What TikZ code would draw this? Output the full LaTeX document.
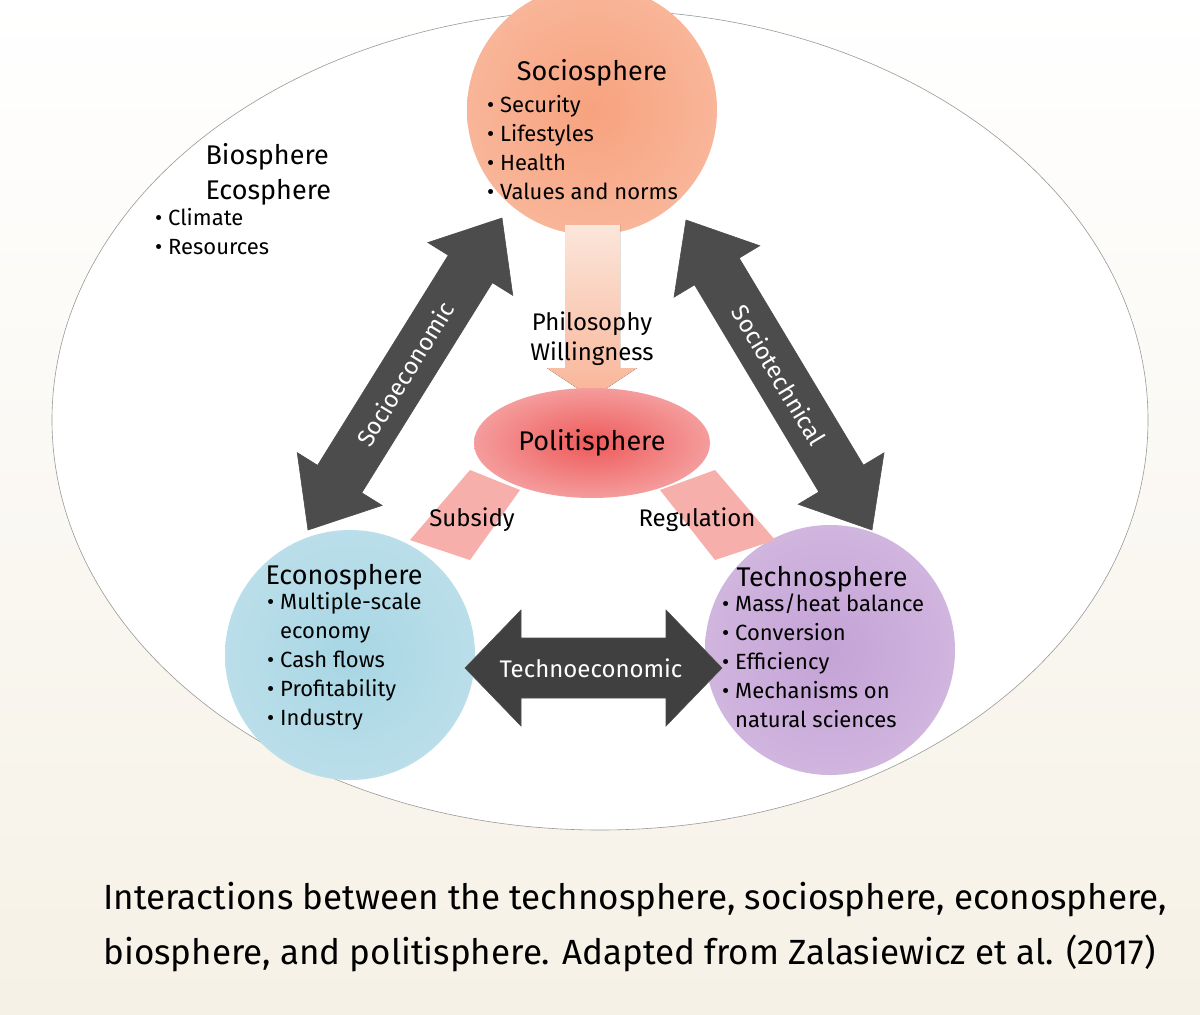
\documentclass[tikz,border=0pt]{standalone}
\usepackage{fontspec}
\setmainfont{Fira Sans}
\usetikzlibrary{calc}
\definecolor{cream}{HTML}{F6F1E6}
\definecolor{rim}{HTML}{D6D2A0}
\definecolor{socin}{HTML}{F7A27E}\definecolor{socout}{HTML}{FBE6DA}
\definecolor{ecoin}{HTML}{A8D6E4}\definecolor{ecoout}{HTML}{EAF4F3}
\definecolor{tecin}{HTML}{C4A2D6}\definecolor{tecout}{HTML}{F1E8F1}
\definecolor{polin}{HTML}{EE5A5A}\definecolor{polout}{HTML}{FBD3CF}
\pgfdeclareradialshading{ellsh}{\pgfpoint{0bp}{0bp}}{color(0bp)=(white); color(36bp)=(white); color(44bp)=(rim!45!white); color(50bp)=(rim)}
\pgfdeclareradialshading{socsh}{\pgfpoint{0bp}{0bp}}{color(0bp)=(socin); color(30bp)=(socin!75!white); color(50bp)=(socout)}
\pgfdeclareradialshading{ecosh}{\pgfpoint{0bp}{0bp}}{color(0bp)=(ecoin); color(30bp)=(ecoin!75!white); color(50bp)=(ecoout)}
\pgfdeclareradialshading{tecsh}{\pgfpoint{0bp}{0bp}}{color(0bp)=(tecin); color(30bp)=(tecin!75!white); color(50bp)=(tecout)}
\pgfdeclareradialshading{polsh}{\pgfpoint{0bp}{0bp}}{color(0bp)=(polin); color(25bp)=(polin!60!white); color(50bp)=(polout)}
\newcommand{\dbl}[6]{% A, B, shaft half, head half, head length, fill
  \path[fill=#6, draw=black!70, line width=0.6pt]
   (#1) -- ($($(#1)!#5pt!(#2)$)!#4pt!90:(#2)$) -- ($($(#1)!#5pt!(#2)$)!#3pt!90:(#2)$)
   -- ($($(#2)!#5pt!(#1)$)!#3pt!-90:(#1)$) -- ($($(#2)!#5pt!(#1)$)!#4pt!-90:(#1)$)
   -- (#2) -- ($($(#2)!#5pt!(#1)$)!#4pt!90:(#1)$) -- ($($(#2)!#5pt!(#1)$)!#3pt!90:(#1)$)
   -- ($($(#1)!#5pt!(#2)$)!#3pt!-90:(#2)$) -- ($($(#1)!#5pt!(#2)$)!#4pt!-90:(#2)$) -- cycle;}
\tikzset{
 ttl/.style={font=\fontsize{27}{30}\selectfont, anchor=west},
 bul/.style={font=\fontsize{22}{29}\selectfont, anchor=north west, align=left, inner sep=0pt},
 lab/.style={font=\fontsize{24}{30}\selectfont},
 arrlab/.style={font=\fontsize{24}{28}\selectfont, text=white},
}
\begin{document}
\begin{tikzpicture}[x=1pt,y=-1pt]
\useasboundingbox (0,0) rectangle (1200,1015);
\fill[top color=white, bottom color=cream] (0,0) rectangle (1200,1015);
\shade[shading=ellsh, draw=black!40, line width=0.6pt] (600,420) ellipse [x radius=548, y radius=410];
% spheres
\shade[shading=socsh] (592,110) circle (125);
\shade[shading=ecosh] (350,655) circle (125);
\shade[shading=tecsh] (830,650) circle (125);
% stem and legs
\fill[top color=socout, bottom color=socin!80!white] (565,225) -- (620,225) -- (620,368) -- (637,368) -- (592,398) -- (547,368) -- (565,368) -- cycle;
\fill[polout!70!polin] (470,470) -- (520,490) -- (470,560) -- (410,540) -- cycle;
\fill[polout!70!polin] (660,490) -- (715,470) -- (775,540) -- (715,560) -- cycle;
\shade[shading=polsh] (592,443) ellipse [x radius=118, y radius=55];
% arrows
\coordinate (se1) at (308,530); \coordinate (se2) at (502,218);
\coordinate (st1) at (686,220); \coordinate (st2) at (872,530);
\coordinate (te1) at (465,668); \coordinate (te2) at (722,668);
\dbl{se1}{se2}{26}{50}{60}{black!70}
\dbl{st1}{st2}{26}{50}{60}{black!70}
\dbl{te1}{te2}{30}{58}{56}{black!75}
\node[arrlab, rotate=58.6] (sel) at ($(se1)!0.5!(se2)$) {Socioeconomic};
\node[arrlab, rotate=-59] (stl) at ($(st1)!0.5!(st2)$) {Sociotechnical};
\node[arrlab] (tel) at (591,668) {Technoeconomic};
% texts
\node[font=\fontsize{27}{30}\selectfont] (soc) at (592,73) {Sociosphere};
\node[bul] (socb) at (487,95) {• Security\\• Lifestyles\\• Health\\• Values and norms};
\node[ttl] (bio) at (202,157) {Biosphere};
\node[ttl] (eco) at (202,192) {Ecosphere};
\node[bul] (biob) at (155,208) {• Climate\\• Resources};
\node[lab, align=center] (phil) at (592,339) {Philosophy\\Willingness};
\node[font=\fontsize{27}{30}\selectfont] (pol) at (592,443) {Politisphere};
\node[lab] (sub) at (472,520) {Subsidy};
\node[lab] (reg) at (697,520) {Regulation};
\node[ttl] (econ) at (262,577) {Econosphere};
\node[bul] (econb) at (267,592) {• Multiple-scale\\\phantom{• }economy\\• Cash flows\\• Profitability\\• Industry};
\node[ttl] (tech) at (733,579) {Technosphere};
\node[bul] (techb) at (722,594) {• Mass/heat balance\\• Conversion\\• Efficiency\\• Mechanisms on\\\phantom{• }natural sciences};
\node[font=\fontsize{35}{55}\selectfont, align=left, anchor=west] (cap) at (100,927) {Interactions between the technosphere, sociosphere, econosphere,\\biosphere, and politisphere. Adapted from Zalasiewicz et al. (2017)};
\end{tikzpicture}
\end{document}
